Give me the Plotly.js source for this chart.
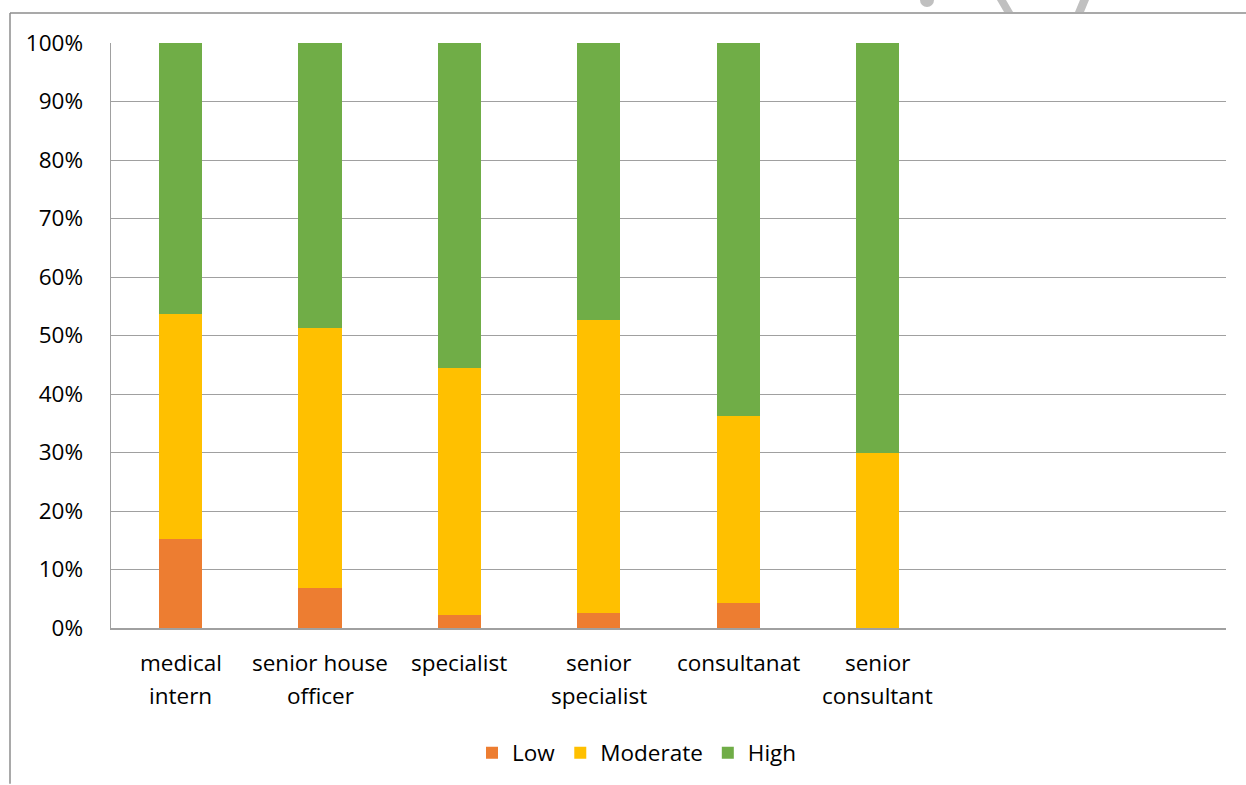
<!DOCTYPE html>
<html>
<head>
<meta charset="utf-8">
<script src="https://cdn.plot.ly/plotly-3.0.1.min.js"></script>
<style>html,body{margin:0;padding:0;background:#fff;}#chart{width:1246px;height:785px;}</style>
</head>
<body>
<div id="chart"></div>
<script>
var categories = ["medical intern", "senior house officer", "specialist", "senior specialist", "consultanat", "senior consultant", " ", "  "];
var tickLines1 = ["medical", "senior house", "specialist", "senior", "consultanat", "senior", "", ""];
var tickLines2 = ["intern", "officer", "", "specialist", "", "consultant", "", ""];
var lowValues = [15.2, 6.8, 2.2, 2.6, 4.3, 0, null, null];
var moderateValues = [38.5, 44.4, 42.2, 50.0, 32.0, 30.0, null, null];
var highValues = [46.3, 48.8, 55.6, 47.4, 63.7, 70.0, null, null];
var yTickVals = [0, 10, 20, 30, 40, 50, 60, 70, 80, 90, 100];
var yTickText = ["0%", "10%", "20%", "30%", "40%", "50%", "60%", "70%", "80%", "90%", "100%"];

var font = "Open Sans, sans-serif";
var fs = 22.5;
function bar(name, vals, color) {
  return {type: "bar", name: name, x: categories, y: vals,
    marker: {color: color, line: {width: 0}}, hoverinfo: "name+y"};
}
var data = [
  bar("Low", lowValues, "#ED7D31"),
  bar("Moderate", moderateValues, "#FFC000"),
  bar("High", highValues, "#70AD47")
];
var L = 111, R = 1226, T = 43, B = 629;
function px(x) { return (x - L) / (R - L); }
function py(y) { return (B - y) / (B - T); }
function poly(pts) {
  return pts.map(function (p, i) { return (i ? "L " : "M ") + px(p[0]) + " " + py(p[1]); }).join(" ") + " Z";
}

var annotations = [];
categories.forEach(function (c, i) {
  [[tickLines1[i], 664], [tickLines2[i], 697]].forEach(function (p) {
    if (!p[0]) return;
    annotations.push({xref: "x", yref: "paper", x: c, y: py(p[1]), text: p[0], showarrow: false,
      xanchor: "center", yanchor: "middle", font: {family: font, size: fs, color: "#000"}});
  });
});

var layout = {
  width: 1246, height: 785,
  margin: {l: L, r: 1246 - R, t: T, b: 785 - B, pad: 0},
  barmode: "stack", bargap: 0.69,
  paper_bgcolor: "#fff", plot_bgcolor: "#fff",
  font: {family: font, size: fs, color: "#000"},
  showlegend: true,
  legend: {orientation: "h", x: px(637), xanchor: "center", y: py(753), yanchor: "middle",
    font: {family: font, size: fs, color: "#000"}, itemwidth: 30, tracegroupgap: 0, traceorder: "normal"},
  xaxis: {type: "category", categoryorder: "array", categoryarray: categories,
    showticklabels: false,
    showgrid: false, showline: true, linecolor: "#a0a0a0", linewidth: 1.5, ticks: "", fixedrange: true},
  yaxis: {range: [0, 100], tickmode: "array", tickvals: yTickVals, ticktext: yTickText,
    showgrid: true, gridcolor: "#a0a0a0", gridwidth: 1, zeroline: false,
    showline: true, linecolor: "#a0a0a0", linewidth: 1.5, ticks: "",
    ticklabelstandoff: 22, tickfont: {family: font, size: fs, color: "#000"}, fixedrange: true},
  annotations: annotations,
  shapes: [
    {type: "line", xref: "paper", yref: "paper", x0: px(10), x1: px(1246), y0: py(13), y1: py(13), line: {color: "#8c8c8c", width: 1.5}},
    {type: "line", xref: "paper", yref: "paper", x0: px(10), x1: px(10), y0: py(13), y1: py(785), line: {color: "#8c8c8c", width: 1.5}},
    {type: "path", xref: "paper", yref: "paper", path: poly([[997, 0], [1006, 0], [1013, 12], [1004, 12]]), fillcolor: "#c0c0c0", line: {width: 0}},
    {type: "path", xref: "paper", yref: "paper", path: poly([[1080, 0], [1089, 0], [1084, 12], [1075, 12]]), fillcolor: "#c0c0c0", line: {width: 0}},
    {type: "circle", xref: "paper", yref: "paper", x0: px(920), x1: px(934), y0: py(-7), y1: py(7), fillcolor: "#c0c0c0", line: {width: 0}}
  ]
};
Plotly.newPlot("chart", data, layout, {displayModeBar: false, staticPlot: true});
</script>
</body>
</html>
